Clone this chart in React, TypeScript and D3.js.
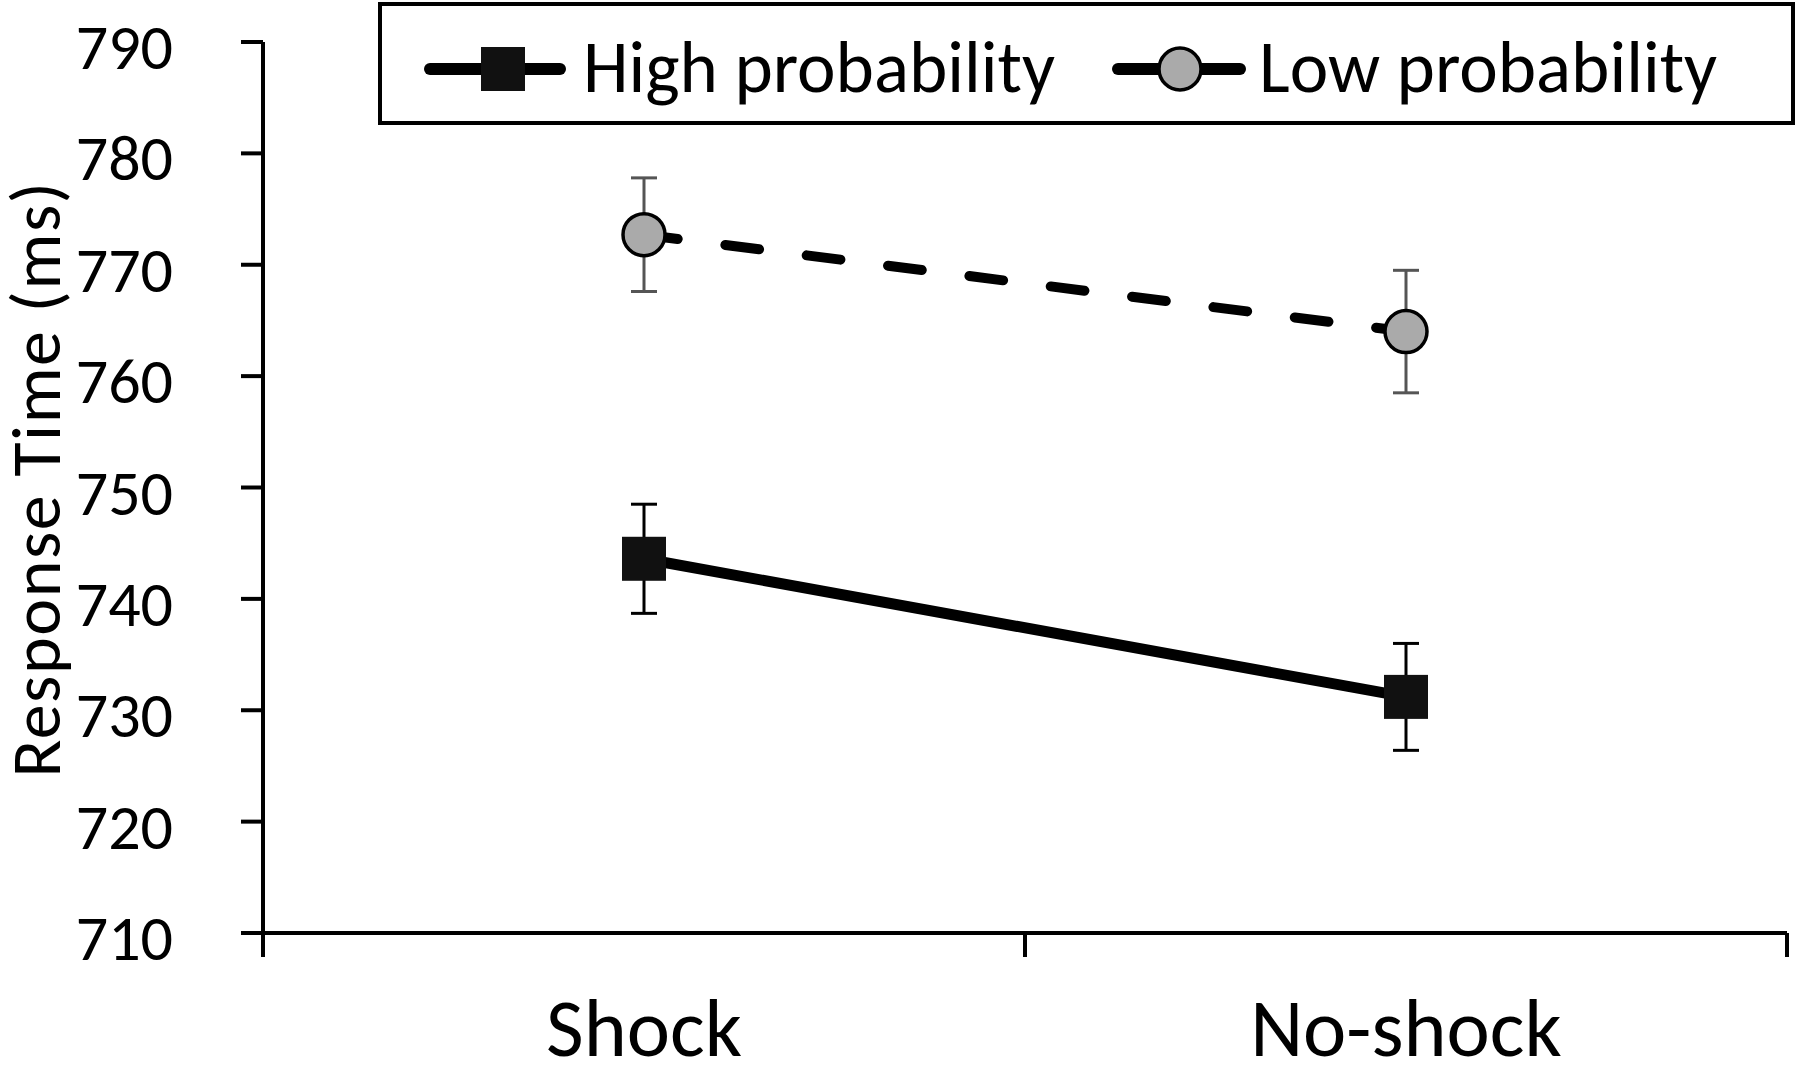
import React from "react";
import * as d3 from "d3";

const categories = ["Shock", "No-shock"];
const highMeans = [743.6, 731.2];
const highErrors = [4.9, 4.8];
const lowMeans = [772.7, 764.0];
const lowErrors = [5.1, 5.5];
const yTicks = [710, 720, 730, 740, 750, 760, 770, 780, 790];
const seriesNames = ["High probability", "Low probability"];
const yTitle = "Response Time (ms)";

const W = 1800;
const H = 1071;
const FONT = "Carlito, Lato, 'Open Sans', sans-serif";

export default function App() {
  const left = 263, right = 1787, top = 42, bottom = 933;
  const x = d3.scalePoint<string>().domain(categories).range([left, right]).padding(0.5);
  const y = d3.scaleLinear().domain([710, 790]).range([bottom, top]);
  const line = d3.line<number>().x((_, i) => x(categories[i])!).y((v) => y(v));
  const capW = 13;
  const markerSq = 44;
  const markerR = 21;

  const errorBars = (means: number[], errs: number[], color: string, sw: number) =>
    means.map((m, i) => {
      const cx = x(categories[i])!;
      return (
        <g key={i} stroke={color} strokeWidth={sw}>
          <line x1={cx} x2={cx} y1={y(m + errs[i])} y2={y(m - errs[i])} />
          <line x1={cx - capW} x2={cx + capW} y1={y(m + errs[i])} y2={y(m + errs[i])} />
          <line x1={cx - capW} x2={cx + capW} y1={y(m - errs[i])} y2={y(m - errs[i])} />
        </g>
      );
    });

  const midTick = (x(categories[0])! + x(categories[1])!) / 2;

  return (
    <svg width={W} height={H} style={{ position: "absolute", left: 0, top: 0, background: "#fff" }} fontFamily={FONT}>
      <rect x={0} y={0} width={W} height={H} fill="#fff" />
      {/* Y axis */}
      <line x1={left} x2={left} y1={top} y2={bottom + 24} stroke="#000" strokeWidth={4} />
      {yTicks.map((t) => (
        <g key={t}>
          <line x1={left - 22} x2={left} y1={y(t)} y2={y(t)} stroke="#000" strokeWidth={4} />
          <text x={173} y={y(t) + 27} textAnchor="end" fontSize={64} fill="#000">
            {t}
          </text>
        </g>
      ))}
      {/* X axis */}
      <line x1={left - 22} x2={right} y1={bottom} y2={bottom} stroke="#000" strokeWidth={4} />
      {[midTick, right].map((tx, i) => (
        <line key={i} x1={tx} x2={tx} y1={bottom} y2={bottom + 24} stroke="#000" strokeWidth={4} />
      ))}
      {categories.map((c) => (
        <text key={c} x={x(c)!} y={1056} textAnchor="middle" fontSize={82} fill="#000">
          {c}
        </text>
      ))}
      <text
        transform={`translate(60, 479) rotate(-90)`}
        textAnchor="middle"
        fontSize={70}
        letterSpacing={1.5}
        fill="#000"
      >
        {yTitle}
      </text>

      {/* Low probability */}
      {errorBars(lowMeans, lowErrors, "#555", 3)}
      <path
        d={line(lowMeans)!}
        fill="none"
        stroke="#000"
        strokeWidth={10}
        strokeDasharray="34 48"
        strokeLinecap="round"
      />
      {lowMeans.map((m, i) => (
        <circle key={i} cx={x(categories[i])!} cy={y(m)} r={markerR} fill="#aaaaaa" stroke="#000" strokeWidth={3.5} />
      ))}

      {/* High probability */}
      {errorBars(highMeans, highErrors, "#000", 3)}
      <path d={line(highMeans)!} fill="none" stroke="#000" strokeWidth={11} />
      {highMeans.map((m, i) => (
        <rect
          key={i}
          x={x(categories[i])! - markerSq / 2}
          y={y(m) - markerSq / 2}
          width={markerSq}
          height={markerSq}
          fill="#111"
        />
      ))}

      {/* Legend */}
      <rect x={380} y={4} width={1413} height={119} fill="#fff" stroke="#000" strokeWidth={4} />
      <g>
        <line x1={430} x2={560} y1={69} y2={69} stroke="#000" strokeWidth={12} strokeLinecap="round" />
        <rect x={503 - markerSq / 2} y={69 - markerSq / 2} width={markerSq} height={markerSq} fill="#111" />
        <text x={583} y={92} fontSize={73} fill="#000">{seriesNames[0]}</text>
      </g>
      <g>
        <line x1={1118} x2={1160} y1={69} y2={69} stroke="#000" strokeWidth={12} strokeLinecap="round" />
        <line x1={1200} x2={1240} y1={69} y2={69} stroke="#000" strokeWidth={12} strokeLinecap="round" />
        <circle cx={1180} cy={69} r={markerR} fill="#aaaaaa" stroke="#000" strokeWidth={3.5} />
        <text x={1259} y={92} fontSize={73} fill="#000">{seriesNames[1]}</text>
      </g>
    </svg>
  );
}
